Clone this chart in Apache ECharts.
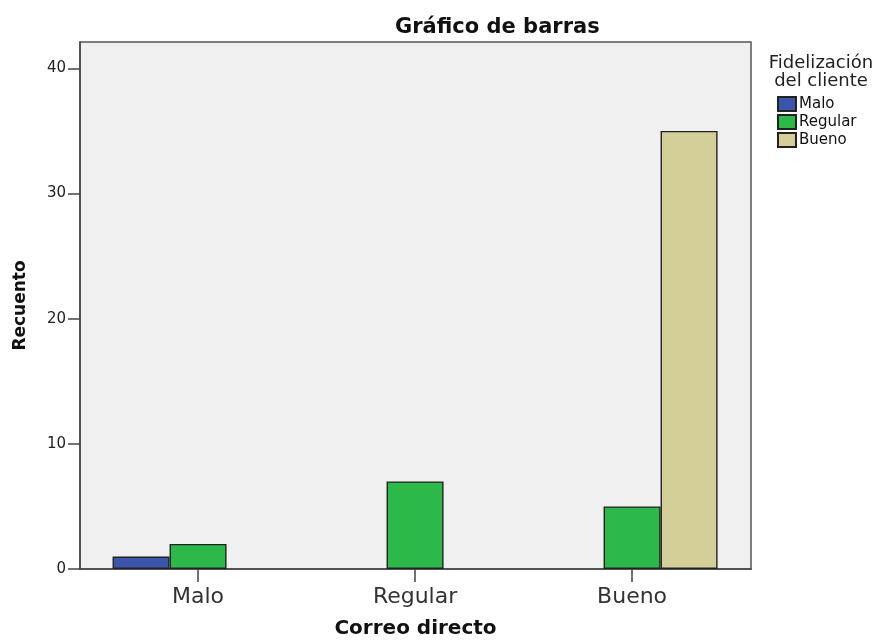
<!DOCTYPE html>
<html>
<head>
<meta charset="utf-8">
<script src="https://cdn.jsdelivr.net/npm/echarts@6/dist/echarts.min.js"></script>
<style>html,body{margin:0;padding:0;background:#fff}#c{width:877px;height:640px}</style>
</head>
<body>
<div id="c"></div>
<script>
const categories = ['Malo', 'Regular', 'Bueno'];
const seriesNames = ['Malo', 'Regular', 'Bueno'];
const maloValues = [1, null, null];
const regularValues = [2, 7, 5];
const buenoValues = [null, null, 35];
const yTicks = [0, 10, 20, 30, 40];

const colors = ['#3a55ab', '#2db84a', '#d4cf98'];
const FONT = '"DejaVu Sans", sans-serif';

function toPairs(vals) {
  return vals.map((v, i) => (v == null ? [i, '-'] : [i, v]));
}
const seriesValues = [maloValues, regularValues, buenoValues];

const chart = echarts.init(document.getElementById('c'), null, { renderer: 'canvas' });
chart.setOption({
  animation: false,
  textStyle: { fontFamily: FONT },
  title: [
    { text: 'Gráfico de barras', left: 390, top: 12,
      textStyle: { fontFamily: FONT, fontSize: 21, fontWeight: 'bold', color: '#111' } },
    { text: 'Fidelización\ndel cliente', left: 816, top: 49, textAlign: 'center',
      textStyle: { fontFamily: FONT, fontSize: 18, fontWeight: 'normal', color: '#222', lineHeight: 18 } }
  ],
  legend: {
    orient: 'vertical', left: 777, top: 96, padding: 0,
    itemWidth: 18, itemHeight: 14, itemGap: 2,
    icon: 'rect',
    textStyle: { fontFamily: FONT, fontSize: 15, lineHeight: 14, color: '#111', padding: [0, 0, 0, -2] },
    data: seriesNames
  },
  grid: {
    left: 80, right: 126, top: 42, bottom: 71,
    outerBoundsMode: 'none', containLabel: false,
    show: true, backgroundColor: '#f0f0f0', borderColor: '#555', borderWidth: 1.5
  },
  xAxis: {
    type: 'value', min: -0.544, max: 2.548,
    name: 'Correo directo', nameLocation: 'middle', nameGap: 50,
    nameTextStyle: { fontFamily: FONT, fontSize: 20, fontWeight: 'bold', color: '#111' },
    axisLine: { show: true, onZero: false, lineStyle: { color: '#444', width: 1.5 } },
    axisTick: { show: true, customValues: [0, 1, 2], length: 13, lineStyle: { color: '#444', width: 1.5 } },
    axisLabel: { customValues: [0, 1, 2], formatter: v => categories[Math.round(v)] || '',
      fontFamily: FONT, fontSize: 22, color: '#333', margin: 17 },
    splitLine: { show: false }
  },
  yAxis: {
    type: 'value', min: 0, max: 42.1, interval: 10,
    name: 'Recuento', nameLocation: 'middle', nameGap: 51,
    nameTextStyle: { fontFamily: FONT, fontSize: 17, fontWeight: 'bold', color: '#111' },
    axisLine: { show: true, onZero: false, lineStyle: { color: '#444', width: 1.5 } },
    axisTick: { show: true, inside: false, length: 12, lineStyle: { color: '#444', width: 1.5 } },
    axisLabel: { fontFamily: FONT, fontSize: 15, color: '#222', margin: 14, showMaxLabel: false,
      formatter: v => (yTicks.indexOf(v) >= 0 ? String(v) : '') },
    splitLine: { show: false }
  },
  series: seriesNames.map((name, k) => ({
    name: name, type: 'bar', barWidth: 57, barGap: '0%',
    data: toPairs(seriesValues[k]),
    itemStyle: { color: colors[k], borderColor: '#222', borderWidth: 1.4 }
  }))
});
</script>
</body>
</html>
